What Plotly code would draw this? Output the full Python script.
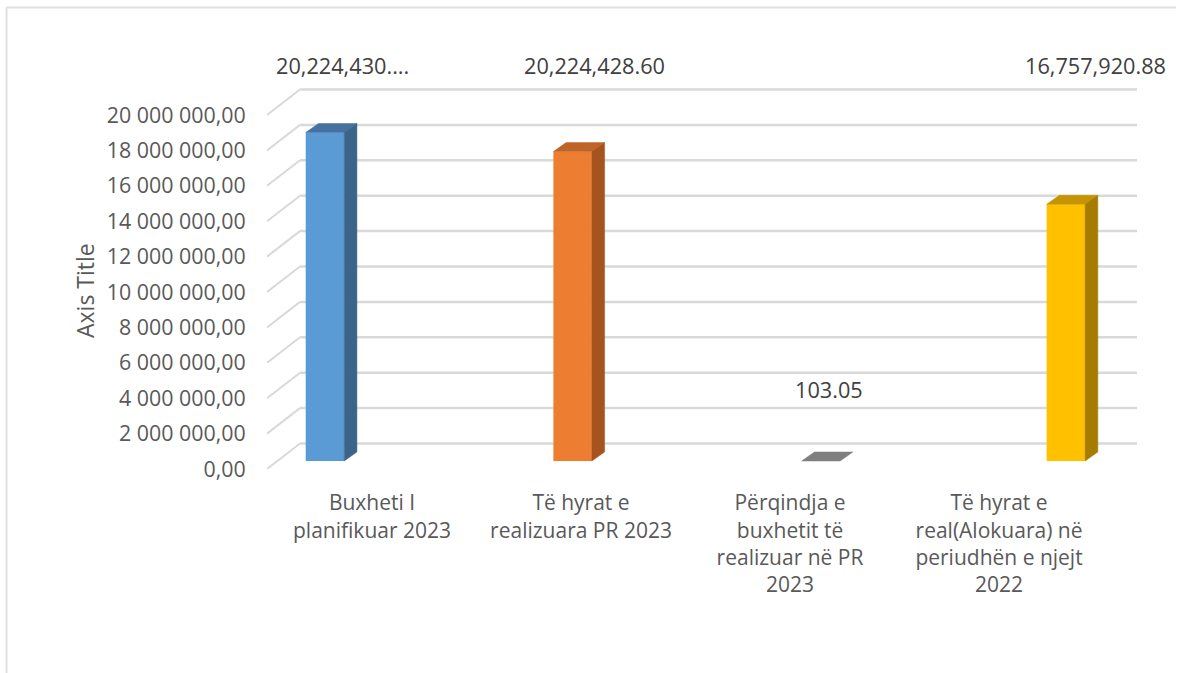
import plotly.graph_objects as go

# ---- data ----
categories = ["Buxheti I<br>planifikuar 2023", "Të hyrat e<br>realizuara PR 2023",
              "Përqindja e<br>buxhetit të<br>realizuar në PR<br>2023",
              "Të hyrat e<br>real(Alokuara) në<br>periudhën e njejt<br>2022"]
bar_values = [18560000, 17480000, 0, 14500000]
data_labels = ["20,224,430....", "20,224,428.60", "103.05", "16,757,920.88"]
y_ticks = [0, 2e6, 4e6, 6e6, 8e6, 10e6, 12e6, 14e6, 16e6, 18e6, 20e6]
y_tick_labels = ["0,00", "2 000 000,00", "4 000 000,00", "6 000 000,00", "8 000 000,00",
                 "10 000 000,00", "12 000 000,00", "14 000 000,00", "16 000 000,00",
                 "18 000 000,00", "20 000 000,00"]
front_colors = ["#5B9BD5", "#ED7D31", "#A5A5A5", "#FFC000"]
top_colors = ["#47729F", "#BE6428", "#7F7F7F", "#C49500"]
side_colors = ["#3A6488", "#A5541F", "#6E6E6E", "#A67C00"]

# ---- layout geometry ----
W, H = 1182, 673
PL, PR, PT, PB = 267, 1137, 40, 469        # plot area in page pixels
X_PER_PX = 1 / 209                          # category units per pixel
Y_PER_PX = 2e6 / 35.4                       # value units per pixel
x_range = [(PL - 372) * X_PER_PX, (PR - 372) * X_PER_PX]
y_range = [0, (PB - PT) * Y_PER_PX]

bar_pos = [-0.225, 0.96, 2.148, 3.32]       # bars sit off the category centres
bar_w = 38.5 * X_PER_PX
bar_base = 8 * Y_PER_PX                     # bars stand in a plane above the axis floor
depth_x, depth_y = 12.7 * X_PER_PX, 9 * Y_PER_PX
wall_x, wall_y = 33 * X_PER_PX, 25.5 * Y_PER_PX
label_x = [0 + (342 - 372) * X_PER_PX, 1 + (594 - 581) * X_PER_PX,
           2 + (829 - 790) * X_PER_PX, 3 + (1095 - 999) * X_PER_PX]
label_y_px = [65, 65, 389, 65]

GRID = "#D9D9D9"
TICK = "#595959"
FONT = "Open Sans"


def px_x(px):
    return (px - PL) / (PR - PL)


def px_y(py):
    return 1 - (py - PT) / (PB - PT)


fig = go.Figure()

# wall gridlines with the diagonal floor/side piece, behind the bars
shapes = []
for v in y_ticks:
    shapes.append(dict(type="line", xref="x", yref="y", layer="below",
                       x0=x_range[0], y0=v, x1=x_range[0] + wall_x, y1=v + wall_y,
                       line=dict(color=GRID, width=2)))
    shapes.append(dict(type="line", xref="x", yref="y", layer="below",
                       x0=x_range[0] + wall_x, y0=v + wall_y, x1=x_range[1], y1=v + wall_y,
                       line=dict(color=GRID, width=2.5)))

# chart frame: only the top and left edges fall inside the picture
shapes.append(dict(type="line", xref="paper", yref="paper", layer="below",
                   x0=px_x(6.5), x1=px_x(1176), y0=px_y(7.5), y1=px_y(7.5),
                   line=dict(color="#E0E0E0", width=2)))
shapes.append(dict(type="line", xref="paper", yref="paper", layer="below",
                   x0=px_x(6.5), x1=px_x(6.5), y0=px_y(7.5), y1=px_y(H),
                   line=dict(color="#E0E0E0", width=2)))

# front faces
fig.add_trace(go.Bar(
    x=bar_pos, y=bar_values, base=[bar_base] * len(bar_values), width=bar_w,
    marker=dict(color=front_colors, line=dict(width=0)),
    hoverinfo="skip", showlegend=False))

# top and side faces
for p, v, tc, sc in zip(bar_pos, bar_values, top_colors, side_colors):
    x0, x1 = p - bar_w / 2, p + bar_w / 2
    y0, y1 = bar_base, bar_base + v
    fig.add_trace(go.Scatter(
        x=[x0, x1, x1 + depth_x, x0 + depth_x, x0],
        y=[y1, y1, y1 + depth_y, y1 + depth_y, y1],
        fill="toself", fillcolor=tc, mode="lines", line=dict(color=tc, width=0.5),
        hoverinfo="skip", showlegend=False))
    if v > 0:
        fig.add_trace(go.Scatter(
            x=[x1, x1 + depth_x, x1 + depth_x, x1, x1],
            y=[y0, y0 + depth_y, y1 + depth_y, y1, y0],
            fill="toself", fillcolor=sc, mode="lines", line=dict(color=sc, width=0.5),
            hoverinfo="skip", showlegend=False))

annotations = [
    dict(x=lx, y=px_y(ly), xref="x", yref="paper", text=t, showarrow=False,
         font=dict(family=FONT, size=21.7, color="#404040"), xanchor="center", yanchor="middle")
    for lx, ly, t in zip(label_x, label_y_px, data_labels)
]
annotations.append(dict(x=px_x(85), y=px_y(291), xref="paper", yref="paper", text="Axis Title",
                        textangle=-90, showarrow=False, xanchor="center", yanchor="middle",
                        font=dict(family=FONT, size=23, color=TICK)))

fig.update_layout(
    width=W, height=H, autosize=False,
    margin=dict(l=PL, r=W - PR, t=PT, b=H - PB, pad=0),
    paper_bgcolor="white", plot_bgcolor="white",
    barmode="overlay", showlegend=False,
    font=dict(family=FONT, size=21, color=TICK),
    annotations=annotations,
    shapes=shapes,
    xaxis=dict(range=x_range, tickmode="array", tickvals=list(range(len(categories))),
               ticktext=categories, showgrid=False, zeroline=False, showline=False,
               ticks="outside", ticklen=15, tickcolor="rgba(0,0,0,0)", tickangle=0,
               fixedrange=True, automargin=False,
               tickfont=dict(family=FONT, size=21, color=TICK)),
    yaxis=dict(range=y_range, tickmode="array", tickvals=y_ticks, ticktext=y_tick_labels,
               showgrid=False, zeroline=False, showline=False,
               ticks="outside", ticklen=16, tickcolor="rgba(0,0,0,0)",
               fixedrange=True, automargin=False,
               tickfont=dict(family=FONT, size=21.4, color=TICK)),
)

fig.write_html("out.html", config={"displayModeBar": False},
               post_script="document.body.style.margin='0';")
